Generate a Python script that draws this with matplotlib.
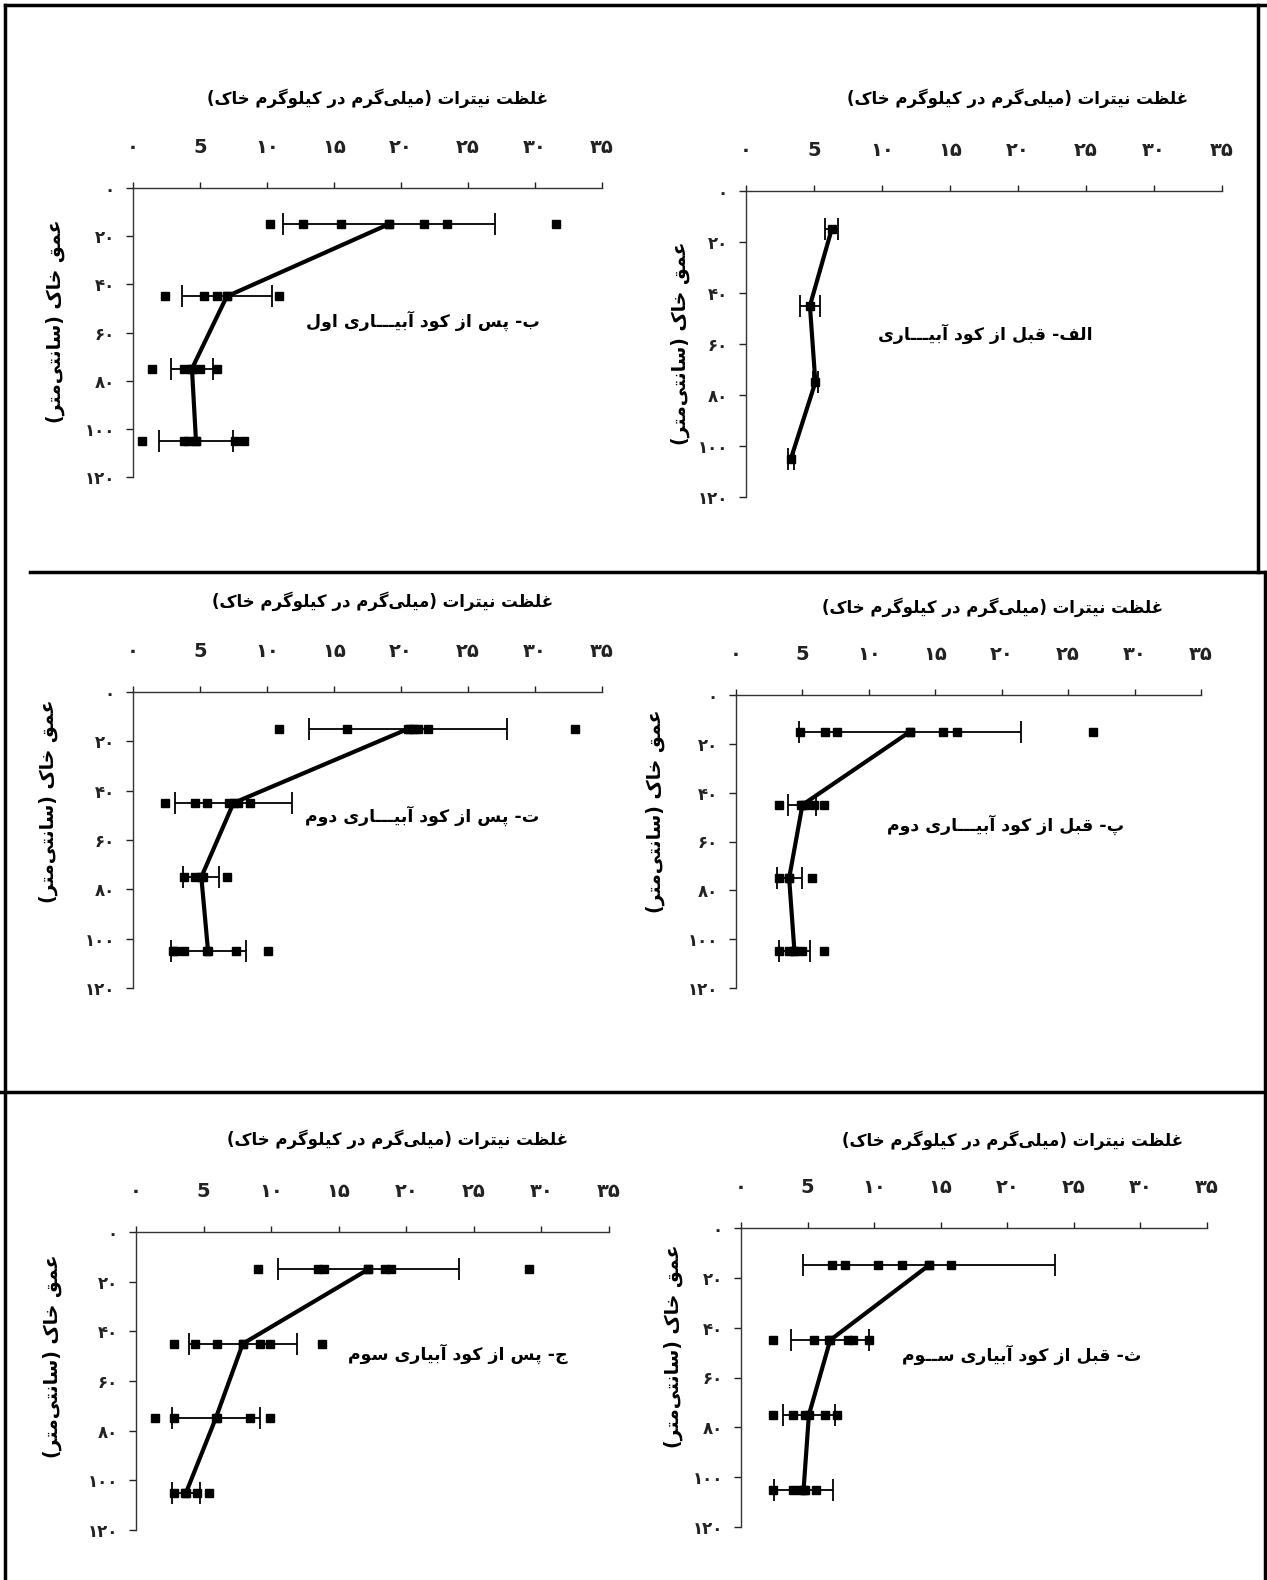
# ==========================================
# 1. IMPORT LIBRARY
# ==========================================
import matplotlib
matplotlib.use("Agg")
import matplotlib.pyplot as plt
from matplotlib.lines import Line2D

plt.rcParams['font.family'] = ['DejaVu Sans']

# ==========================================
# 2. DATA
# ==========================================
depths = [15, 45, 75, 105]

x_ticks = [0, 5, 10, 15, 20, 25, 30, 35]
x_tick_labels = ['۰', '5', '۱۰', '۱۵', '۲۰', '۲۵', '۳۰', '۳۵']
y_ticks = [0, 20, 40, 60, 80, 100, 120]
y_tick_labels = ['۰', '۲۰', '۴۰', '۶۰', '۸۰', '۱۰۰', '۱۲۰']

x_title = 'غلظت نیترات (میلی\u200cگرم در کیلوگرم خاک)'
y_title = 'عمق خاک (سانتی\u200cمتر)'

# الف - before irrigation
alef_label = 'الف- قبل از کود آبیـــاری'
alef_mean = [6.3, 4.7, 5.1, 3.3]
alef_sd = [0.5, 0.75, 0.2, 0.2]
alef_points = [[], [], [], []]

# ب - after first irrigation
be_label = 'ب- پس از کود آبیـــاری اول'
be_mean = [19.1, 7.0, 4.4, 4.7]
be_sd = [7.9, 3.35, 1.6, 2.75]
be_points = [[10.2, 12.7, 15.5, 19.1, 21.7, 23.4, 31.6],
             [2.4, 5.3, 6.3, 7.0, 10.9],
             [1.4, 3.8, 4.4, 5.0, 6.3],
             [0.7, 3.8, 4.1, 4.7, 7.6, 8.3]]

# پ - before second irrigation
pe_label = 'پ- قبل از کود آبیـــاری دوم'
pe_mean = [13.1, 5.0, 4.0, 4.4]
pe_sd = [8.35, 1.05, 0.95, 1.2]
pe_points = [[4.8, 6.7, 7.6, 13.1, 15.6, 16.6, 26.9],
             [3.2, 4.9, 5.2, 5.9, 6.6],
             [3.2, 4.0, 5.7],
             [3.2, 4.0, 4.4, 5.0, 6.6]]

# ت - after second irrigation
te_label = 'ت- پس از کود آبیـــاری دوم'
te_mean = [20.5, 7.5, 5.1, 5.6]
te_sd = [7.4, 4.4, 1.35, 2.8]
te_points = [[10.9, 16.0, 20.7, 21.0, 21.3, 22.0, 33.0],
             [2.4, 4.6, 5.5, 7.2, 7.8, 8.7],
             [3.8, 4.6, 5.2, 7.0],
             [3.0, 3.1, 3.8, 5.5, 7.7, 10.1]]

# ث - before third irrigation
se_label = 'ث- قبل از کود آبیاری ســوم'
se_mean = [14.1, 6.7, 5.1, 4.7]
se_sd = [9.45, 2.95, 1.95, 2.2]
se_points = [[6.8, 7.8, 10.3, 12.1, 14.1, 15.8],
             [2.4, 5.5, 6.6, 8.0, 8.4, 9.6],
             [2.4, 3.9, 4.8, 6.3, 7.2],
             [2.4, 3.9, 4.5, 4.8, 5.6]]

# ج - after third irrigation
jim_label = 'ج- پس از کود آبیاری سوم'
jim_mean = [17.2, 7.9, 5.9, 3.7]
jim_sd = [6.7, 4.0, 3.25, 1.0]
jim_points = [[9.0, 13.5, 13.9, 17.2, 18.4, 18.9, 29.1],
              [2.8, 4.4, 6.0, 7.9, 9.2, 9.9, 13.8],
              [1.4, 2.8, 6.0, 8.4, 9.9],
              [2.8, 3.6, 4.5, 5.4]]

# ==========================================
# 3. SIMPLE ARABIC/PERSIAN SHAPING (no raqm in matplotlib)
# ==========================================
FORMS = {
    'ا': ('\uFE8D', '\uFE8E', None, None),
    'آ': ('\uFE81', '\uFE82', None, None),
    'ب': ('\uFE8F', '\uFE90', '\uFE91', '\uFE92'),
    'پ': ('\uFB56', '\uFB57', '\uFB58', '\uFB59'),
    'ت': ('\uFE95', '\uFE96', '\uFE97', '\uFE98'),
    'ث': ('\uFE99', '\uFE9A', '\uFE9B', '\uFE9C'),
    'ج': ('\uFE9D', '\uFE9E', '\uFE9F', '\uFEA0'),
    'خ': ('\uFEA5', '\uFEA6', '\uFEA7', '\uFEA8'),
    'د': ('\uFEA9', '\uFEAA', None, None),
    'ر': ('\uFEAD', '\uFEAE', None, None),
    'ز': ('\uFEAF', '\uFEB0', None, None),
    'س': ('\uFEB1', '\uFEB2', '\uFEB3', '\uFEB4'),
    'ظ': ('\uFEC5', '\uFEC6', '\uFEC7', '\uFEC8'),
    'ع': ('\uFEC9', '\uFECA', '\uFECB', '\uFECC'),
    'غ': ('\uFECD', '\uFECE', '\uFECF', '\uFED0'),
    'ف': ('\uFED1', '\uFED2', '\uFED3', '\uFED4'),
    'ق': ('\uFED5', '\uFED6', '\uFED7', '\uFED8'),
    'ک': ('\uFB8E', '\uFB8F', '\uFB90', '\uFB91'),
    'گ': ('\uFB92', '\uFB93', '\uFB94', '\uFB95'),
    'ل': ('\uFEDD', '\uFEDE', '\uFEDF', '\uFEE0'),
    'م': ('\uFEE1', '\uFEE2', '\uFEE3', '\uFEE4'),
    'ن': ('\uFEE5', '\uFEE6', '\uFEE7', '\uFEE8'),
    'و': ('\uFEED', '\uFEEE', None, None),
    'ی': ('\uFBFC', '\uFBFD', '\uFBFE', '\uFBFF'),
    'ـ': ('ـ', 'ـ', 'ـ', 'ـ'),
}


def fa(s):
    out = []
    for i, c in enumerate(s):
        if c not in FORMS:
            out.append(c)
            continue
        prev = s[i - 1] if i > 0 else None
        nxt = s[i + 1] if i + 1 < len(s) else None
        join_prev = prev in FORMS and FORMS[prev][2] is not None
        join_next = nxt in FORMS and FORMS[c][2] is not None
        iso, fin, ini, med = FORMS[c]
        if join_prev and join_next:
            out.append(med)
        elif join_prev:
            out.append(fin)
        elif join_next:
            out.append(ini)
        else:
            out.append(iso)
    vis = ''.join(out).replace('\u200c', '')[::-1]
    return vis.translate(str.maketrans('()', ')('))


# ==========================================
# 4. FIGURE + PANELS
# ==========================================
W, H = 1267, 1580
fig = plt.figure(figsize=(W / 100, H / 100), dpi=100)

# (left px, right px, top px, bottom px, title xy, ylabel xy, label data xy)
panels = [
    (be_mean, be_sd, be_points, be_label,
     (133, 602, 188, 477), (378, 98), (55, 321), (21.6, 55)),
    (alef_mean, alef_sd, alef_points, alef_label,
     (746, 1222, 191, 497), (1018, 98), (680, 343), (17.6, 56)),
    (te_mean, te_sd, te_points, te_label,
     (133, 602, 692, 988), (383, 601), (48, 801), (21.6, 50)),
    (pe_mean, pe_sd, pe_points, pe_label,
     (736, 1201, 695, 988), (993, 607), (655, 811), (20.3, 53)),
    (jim_mean, jim_sd, jim_points, jim_label,
     (136, 609, 1232, 1530), (398, 1139), (52, 1356), (23.8, 49)),
    (se_mean, se_sd, se_points, se_label,
     (741, 1207, 1228, 1527), (1013, 1140), (673, 1346), (21.1, 51)),
]

for mean, sd, points, label, box, tpos, ypos, lpos in panels:
    l, r, t, b = box
    ax = fig.add_axes([l / W, 1 - b / H, (r - l) / W, (b - t) / H])

    for d, row in zip(depths, points):
        ax.plot(row, [d] * len(row), 's', color='black', ms=5.5, zorder=3)
    ax.errorbar(mean, depths, xerr=sd, fmt='none', ecolor='black',
                elinewidth=1.3, capsize=8, capthick=1.3, zorder=2)
    ax.plot(mean, depths, '-s', color='black', lw=3, ms=5.5, zorder=4)

    ax.set_xlim(0, 35)
    ax.set_ylim(120, 0)
    ax.xaxis.tick_top()
    ax.set_xticks(x_ticks)
    ax.set_xticklabels(x_tick_labels, fontsize=14, fontweight='bold')
    ax.set_yticks(y_ticks)
    ax.set_yticklabels(y_tick_labels, fontsize=12, fontweight='bold')
    ax.tick_params(axis='x', direction='out', length=4, width=1, pad=18, colors='#222222')
    ax.tick_params(axis='y', direction='out', length=5, width=1, pad=8, colors='#222222')
    for side in ['right', 'bottom']:
        ax.spines[side].set_visible(False)
    for side in ['top', 'left']:
        ax.spines[side].set_linewidth(1)
        ax.spines[side].set_color('#333333')
    ax.patch.set_alpha(0)

    ax.text(lpos[0], lpos[1], fa(label), ha='center', va='center',
            fontsize=12.5, fontweight='bold')
    fig.text(tpos[0] / W, 1 - tpos[1] / H, fa(x_title), ha='center', va='center',
             fontsize=12, fontweight='bold')
    fig.text(ypos[0] / W, 1 - ypos[1] / H, fa(y_title), ha='center', va='center',
             rotation=90, fontsize=13.5, fontweight='bold')

# ==========================================
# 5. PAGE FRAME LINES
# ==========================================
frame = [
    ((5, 1265), (5, 5)),
    ((5, 5), (5, 1580)),
    ((1258, 1258), (5, 572)),
    ((1265, 1265), (572, 1580)),
    ((30, 1265), (572, 572)),
    ((0, 1265), (1092, 1092)),
]
for xs, ys in frame:
    fig.add_artist(Line2D([x / W for x in xs], [1 - y / H for y in ys],
                          transform=fig.transFigure, color='black', lw=2.5))

fig.savefig('out.png', dpi=100)
